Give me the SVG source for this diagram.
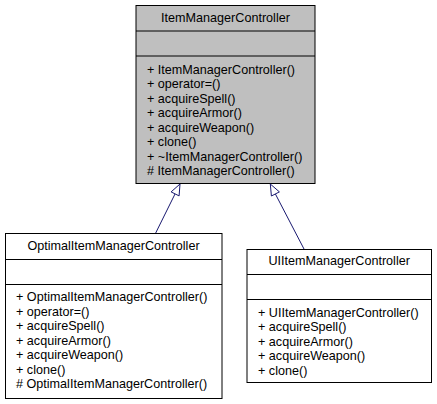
<svg xmlns="http://www.w3.org/2000/svg" width="437" height="404" viewBox="0 0 437 404">
<style>
text{font-family:"Liberation Sans",Arial,sans-serif;font-size:12.6px;fill:#000}
.t{text-anchor:middle}
.box{stroke:#000;stroke-width:1}
.edge{stroke:#191970;stroke-width:1;fill:none}
.head{stroke:#191970;stroke-width:1;fill:#fff}
</style>
<rect width="437" height="404" fill="#fff"/>
<g id="ItemManagerController">
<rect class="box" x="136" y="5.5" width="179" height="178" fill="#bfbfbf"/>
<line class="box" x1="136" y1="31" x2="315" y2="31"/>
<line class="box" x1="136" y1="56" x2="315" y2="56"/>
<text class="t" x="225.5" y="21.5">ItemManagerController</text>
<text x="147" y="73.5">+ ItemManagerController()</text>
<text x="147" y="88">+ operator=()</text>
<text x="147" y="102.5">+ acquireSpell()</text>
<text x="147" y="117">+ acquireArmor()</text>
<text x="147" y="131.5">+ acquireWeapon()</text>
<text x="147" y="146">+ clone()</text>
<text x="147" y="160.5">+ ~ItemManagerController()</text>
<text x="147" y="175"># ItemManagerController()</text>
</g>
<g id="OptimalItemManagerController">
<rect class="box" x="5.5" y="233.5" width="216.5" height="165" fill="#fff"/>
<line class="box" x1="5.5" y1="259.5" x2="222" y2="259.5"/>
<line class="box" x1="5.5" y1="284.5" x2="222" y2="284.5"/>
<text class="t" x="113.5" y="250">OptimalItemManagerController</text>
<text x="16" y="301">+ OptimalItemManagerController()</text>
<text x="16" y="315.5">+ operator=()</text>
<text x="16" y="330">+ acquireSpell()</text>
<text x="16" y="344.5">+ acquireArmor()</text>
<text x="16" y="359">+ acquireWeapon()</text>
<text x="16" y="373.5">+ clone()</text>
<text x="16" y="388"># OptimalItemManagerController()</text>
</g>
<g id="UIItemManagerController">
<rect class="box" x="247" y="249.5" width="184.5" height="133" fill="#fff"/>
<line class="box" x1="247" y1="274.5" x2="431.5" y2="274.5"/>
<line class="box" x1="247" y1="299.5" x2="431.5" y2="299.5"/>
<text class="t" x="339.2" y="265">UIItemManagerController</text>
<text x="258" y="316.5">+ UIItemManagerController()</text>
<text x="258" y="331">+ acquireSpell()</text>
<text x="258" y="345.5">+ acquireArmor()</text>
<text x="258" y="360">+ acquireWeapon()</text>
<text x="258" y="374.5">+ clone()</text>
</g>
<g id="connectors">
<line class="edge" x1="175" y1="194" x2="155.7" y2="233"/>
<polygon class="head" points="180,184 179.1,195.9 171.1,191.9"/>
<line class="edge" x1="275.4" y1="194" x2="304" y2="249"/>
<polygon class="head" points="270.3,184 279.4,191.9 271.4,196"/>
</g>
</svg>
